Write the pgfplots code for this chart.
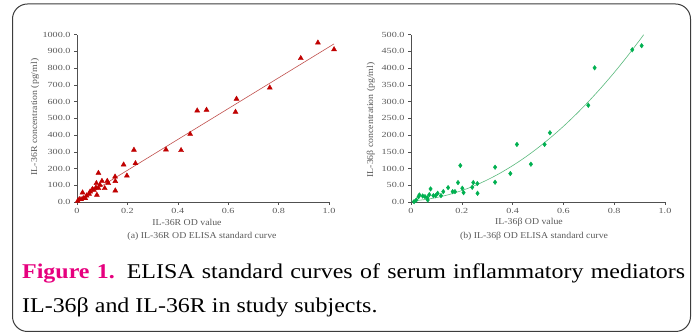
\documentclass[border=0pt]{standalone}
\usepackage{pgfplots}
\pgfplotsset{compat=1.18}
\usepackage{fontspec}
\setmainfont{Liberation Serif}
\newfontfamily\capfont[FakeStretch=1.14]{Liberation Serif}
\newfontfamily\tickfont[FakeStretch=1.3]{Liberation Serif}
\newfontfamily\labfont[FakeStretch=1.09]{Liberation Serif}
\definecolor{frm}{RGB}{60,60,60}
\definecolor{txtg}{RGB}{89,89,89}
\definecolor{axg}{RGB}{80,80,80}
\definecolor{mred}{RGB}{192,0,0}
\definecolor{lred}{RGB}{192,80,77}
\definecolor{mgreen}{RGB}{0,176,80}
\definecolor{lgreen}{RGB}{90,185,125}
\definecolor{magenta}{RGB}{230,0,126}
\pgfplotsset{
  myax/.style={
    scale only axis,
    axis x line*=bottom, axis y line*=left,
    axis line style={-, axg, line width=0.7pt},
    tick align=outside, major tick length=3pt,
    tick style={axg, line width=0.6pt},
    xmin=0, xmax=1,
    xtick={0,0.2,0.4,0.6,0.8,1.0},
    xticklabels={0,0.2,0.4,0.6,0.8,1.0},
    tick label style={font=\tickfont\fontsize{7.8}{8}\selectfont, text=txtg},
    /pgf/number format/assume math mode=true,
    yticklabel style={/pgf/number format/.cd, fixed, fixed zerofill, precision=1, 1000 sep={}},
    clip=false,
  }
}
\begin{document}
\begin{tikzpicture}
\path[use as bounding box] (0pt,0pt) rectangle (698pt,336pt);
\draw[frm, line width=1pt, rounded corners=15pt] (12.5pt,4.5pt) rectangle (690.5pt,332pt);

% Left panel: IL-36R
\begin{axis}[myax, at={(77pt,134pt)}, anchor=south west,
  width=252pt, height=167.3pt, ymin=0, ymax=1000,
  ytick={0,100,...,1000}]
\addplot[lred, line width=0.6pt] coordinates {(0,5) (1.02,945)};
\addplot[only marks, mark=triangle*, mark size=2.9pt, mred] coordinates {
(1.02,912) (0.956,952) (0.888,859) (0.765,683) (0.633,616) (0.629,538)
(0.514,550) (0.477,546) (0.449,406) (0.413,309) (0.353,313) (0.226,311)
(0.232,231) (0.198,157) (0.185,223) (0.151,151) (0.152,124) (0.152,68)
(0.120,125) (0.124,112) (0.099,125) (0.085,173) (0.077,112) (0.075,86)
(0.110,82) (0.085,82) (0.079,42) (0.061,76) (0.052,62) (0.048,48)
(0.038,38) (0.022,56) (0.025,22) (0.033,22) (0.009,16) (0.016,16)
(0.003,6) (0.067,72) (0.091,102)
};
\end{axis}

% Right panel: IL-36beta
\begin{axis}[myax, at={(411pt,134pt)}, anchor=south west,
  width=254pt, height=167.3pt, ymin=0, ymax=500,
  ytick={0,50,...,500}]
\addplot[lgreen, line width=0.6pt, smooth] coordinates {
(0,3) (0.05,6.8) (0.1,13.2) (0.15,22.3) (0.2,34.2) (0.25,48.7) (0.3,66.0)
(0.35,85.9) (0.4,108.6) (0.45,133.9) (0.5,162.0) (0.55,192.7) (0.6,226.1)
(0.65,262.3) (0.7,301.1) (0.75,342.7) (0.8,386.9) (0.85,433.9) (0.9,483.5)
(0.916,500.0)
};
\addplot[only marks, mark=diamond*, mark size=2.3pt, mgreen] coordinates {
(0.908,467) (0.871,455) (0.723,401) (0.698,289) (0.547,207) (0.526,172)
(0.417,172) (0.472,113) (0.391,85) (0.331,104) (0.331,59) (0.194,109)
(0.185,58) (0.261,55) (0.262,26) (0.245,58) (0.241,44) (0.207,28)
(0.202,41) (0.173,31) (0.164,31) (0.146,43) (0.127,31) (0.118,19)
(0.105,26) (0.097,19) (0.077,39) (0.072,22) (0.064,13) (0.066,6)
(0.046,18) (0.033,21) (0.030,16) (0.021,6) (0.012,1) (0.088,19) (0.055,16)
};
\end{axis}

% Axis labels and sub-captions
\begin{scope}[every node/.style={text=txtg, font=\labfont\fontsize{9}{10}\selectfont, inner sep=0pt}]
\node[rotate=90] at (35pt,219pt) {IL-36R concentration (pg/ml)};
\node at (187pt,114pt) {IL-36R OD value};
\node at (202pt,100pt) {(a) IL-36R OD ELISA standard curve};
\node[rotate=90] at (371pt,216pt) {IL-36β concentration (pg/ml)};
\node at (529pt,114pt) {IL-36β OD value};
\node at (534pt,100pt) {(b) IL-36β OD ELISA standard curve};
\end{scope}

% Figure caption
\node[anchor=base west, inner sep=0pt, text width=663pt, align=justify,
  font=\capfont\fontsize{21}{34}\selectfont] at (22pt,57pt)
  {\textcolor{magenta}{\textbf{Figure 1.}} ELISA standard curves of serum inflammatory mediators\linebreak IL-36β and IL-36R in study subjects.};
\end{tikzpicture}
\end{document}
